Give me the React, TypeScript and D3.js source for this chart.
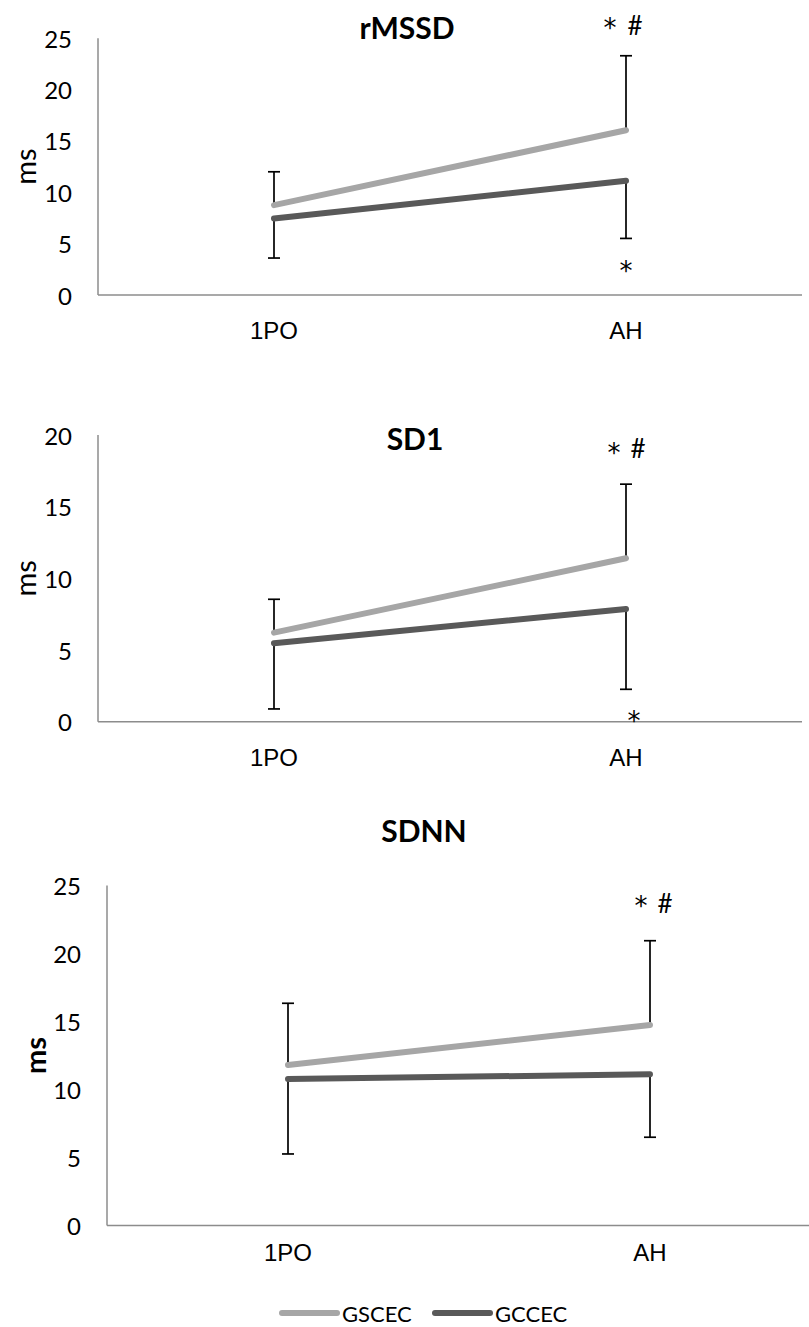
import * as d3 from "d3";

// categories and series
const categories = ["1PO", "AH"];
const seriesNames = ["GSCEC", "GCCEC"];
const seriesColors = ["#a6a6a6", "#595959"];

// rMSSD (ms)
const rmssdGSCEC = [8.75, 16.05];
const rmssdGSCECsd = [3.25, 7.25];
const rmssdGCCEC = [7.46, 11.12];
const rmssdGCCECsd = [3.86, 5.61];
const rmssdTicks = [0, 5, 10, 15, 20, 25];

// SD1 (ms)
const sd1GSCEC = [6.21, 11.4];
const sd1GSCECsd = [2.33, 5.17];
const sd1GCCEC = [5.47, 7.86];
const sd1GCCECsd = [4.58, 5.6];
const sd1Ticks = [0, 5, 10, 15, 20];

// SDNN (ms)
const sdnnGSCEC = [11.8, 14.74];
const sdnnGSCECsd = [4.54, 6.2];
const sdnnGCCEC = [10.77, 11.12];
const sdnnGCCECsd = [5.51, 4.63];
const sdnnTicks = [0, 5, 10, 15, 20, 25];

const LATO = "Lato, 'Open Sans', sans-serif";
const ARIAL = "'Liberation Sans', Arial, sans-serif";
const STAR = "'DejaVu Sans', sans-serif";

function Panel({ title, light, lightSd, dark, darkSd, ticks, layout }) {
  const { left, right, top, bottom, titleX, titleY, msX, msBold, tickX, catY, topMark, lowMark } = layout;
  const x = d3.scaleBand().domain(categories).range([left, right]);
  const y = d3.scaleLinear().domain([0, d3.max(ticks)]).range([bottom, top]);
  const cx = (c) => x(c) + x.bandwidth() / 2;
  const line = d3
    .line()
    .x((d, i) => cx(categories[i]))
    .y((d) => y(d));
  const ah = cx(categories[1]);

  return (
    <g>
      <text x={titleX} y={titleY} textAnchor="middle" dominantBaseline="central"
        fontFamily={LATO} fontWeight="bold" fontSize={30} fill="#000">{title}</text>
      <text transform={`translate(${msX},${(top + bottom) / 2}) rotate(-90)`} textAnchor="middle"
        dominantBaseline="central" fontFamily={LATO} fontWeight={msBold ? "bold" : "normal"}
        fontSize={29} fill="#000">ms</text>
      {ticks.map((t) => (
        <text key={t} x={tickX} y={y(t)} textAnchor="end" dominantBaseline="central"
          fontFamily={LATO} fontSize={24} fill="#000">{t}</text>
      ))}
      <line x1={left} x2={left} y1={top} y2={bottom} stroke="#8c8c8c" strokeWidth={1.5} />
      <line x1={left} x2={right} y1={bottom} y2={bottom} stroke="#8c8c8c" strokeWidth={1.5} />
      {categories.map((c) => (
        <text key={c} x={cx(c)} y={catY} textAnchor="middle" dominantBaseline="central"
          fontFamily={ARIAL} fontSize={24} fill="#000">{c}</text>
      ))}
      {/* error bars: light series up, dark series down */}
      {categories.map((c, i) => (
        <g key={c} stroke="#000" strokeWidth={1.7}>
          <line x1={cx(c)} x2={cx(c)} y1={y(light[i])} y2={y(light[i] + lightSd[i])} />
          <line x1={cx(c) - 6} x2={cx(c) + 6} y1={y(light[i] + lightSd[i])} y2={y(light[i] + lightSd[i])} />
          <line x1={cx(c)} x2={cx(c)} y1={y(dark[i])} y2={y(dark[i] - darkSd[i])} />
          <line x1={cx(c) - 6} x2={cx(c) + 6} y1={y(dark[i] - darkSd[i])} y2={y(dark[i] - darkSd[i])} />
        </g>
      ))}
      <path d={line(light)} fill="none" stroke={seriesColors[0]} strokeWidth={6} strokeLinecap="round" />
      <path d={line(dark)} fill="none" stroke={seriesColors[1]} strokeWidth={6} strokeLinecap="round" />
      <text x={ah + topMark.sx} y={topMark.sy} textAnchor="middle" fontFamily={STAR} fontSize={26} fill="#000">*</text>
      <text x={ah + topMark.hx} y={topMark.hy} textAnchor="middle" fontFamily={LATO} fontSize={26} fill="#000">#</text>
      {lowMark && (
        <text x={ah + lowMark.sx} y={lowMark.sy} textAnchor="middle" fontFamily={STAR} fontSize={26} fill="#000">*</text>
      )}
    </g>
  );
}

export default function App() {
  return (
    <svg width={809} height={1327} style={{ display: "block", position: "absolute", left: 0, top: 0, background: "#fff" }}>
      <Panel title="rMSSD" light={rmssdGSCEC} lightSd={rmssdGSCECsd} dark={rmssdGCCEC} darkSd={rmssdGCCECsd}
        ticks={rmssdTicks}
        layout={{ left: 98, right: 802, top: 38.3, bottom: 295, titleX: 407, titleY: 27, msX: 24, msBold: false,
          tickX: 72, catY: 330, topMark: { sx: -16, sy: 37, hx: 9, hy: 35 }, lowMark: { sx: 0, sy: 280 } }} />
      <Panel title="SD1" light={sd1GSCEC} lightSd={sd1GSCECsd} dark={sd1GCCEC} darkSd={sd1GCCECsd}
        ticks={sd1Ticks}
        layout={{ left: 98, right: 802, top: 435, bottom: 721.7, titleX: 415, titleY: 438, msX: 24, msBold: false,
          tickX: 72, catY: 757, topMark: { sx: -12, sy: 462, hx: 12, hy: 458 }, lowMark: { sx: 8, sy: 730 } }} />
      <Panel title="SDNN" light={sdnnGSCEC} lightSd={sdnnGSCECsd} dark={sdnnGCCEC} darkSd={sdnnGCCECsd}
        ticks={sdnnTicks}
        layout={{ left: 107, right: 831, top: 885.5, bottom: 1225.5, titleX: 424, titleY: 830, msX: 34, msBold: true,
          tickX: 81, catY: 1252, topMark: { sx: -9, sy: 915, hx: 15, hy: 913 }, lowMark: null }} />
      <g>
        {seriesNames.map((s, i) => (
          <g key={s}>
            <line x1={282 + i * 153} x2={337 + i * 153} y1={1313} y2={1313} stroke={seriesColors[i]}
              strokeWidth={6} strokeLinecap="round" />
            <text x={342 + i * 153} y={1313} dominantBaseline="central" fontFamily={LATO} fontSize={22} fill="#000">{s}</text>
          </g>
        ))}
      </g>
    </svg>
  );
}
